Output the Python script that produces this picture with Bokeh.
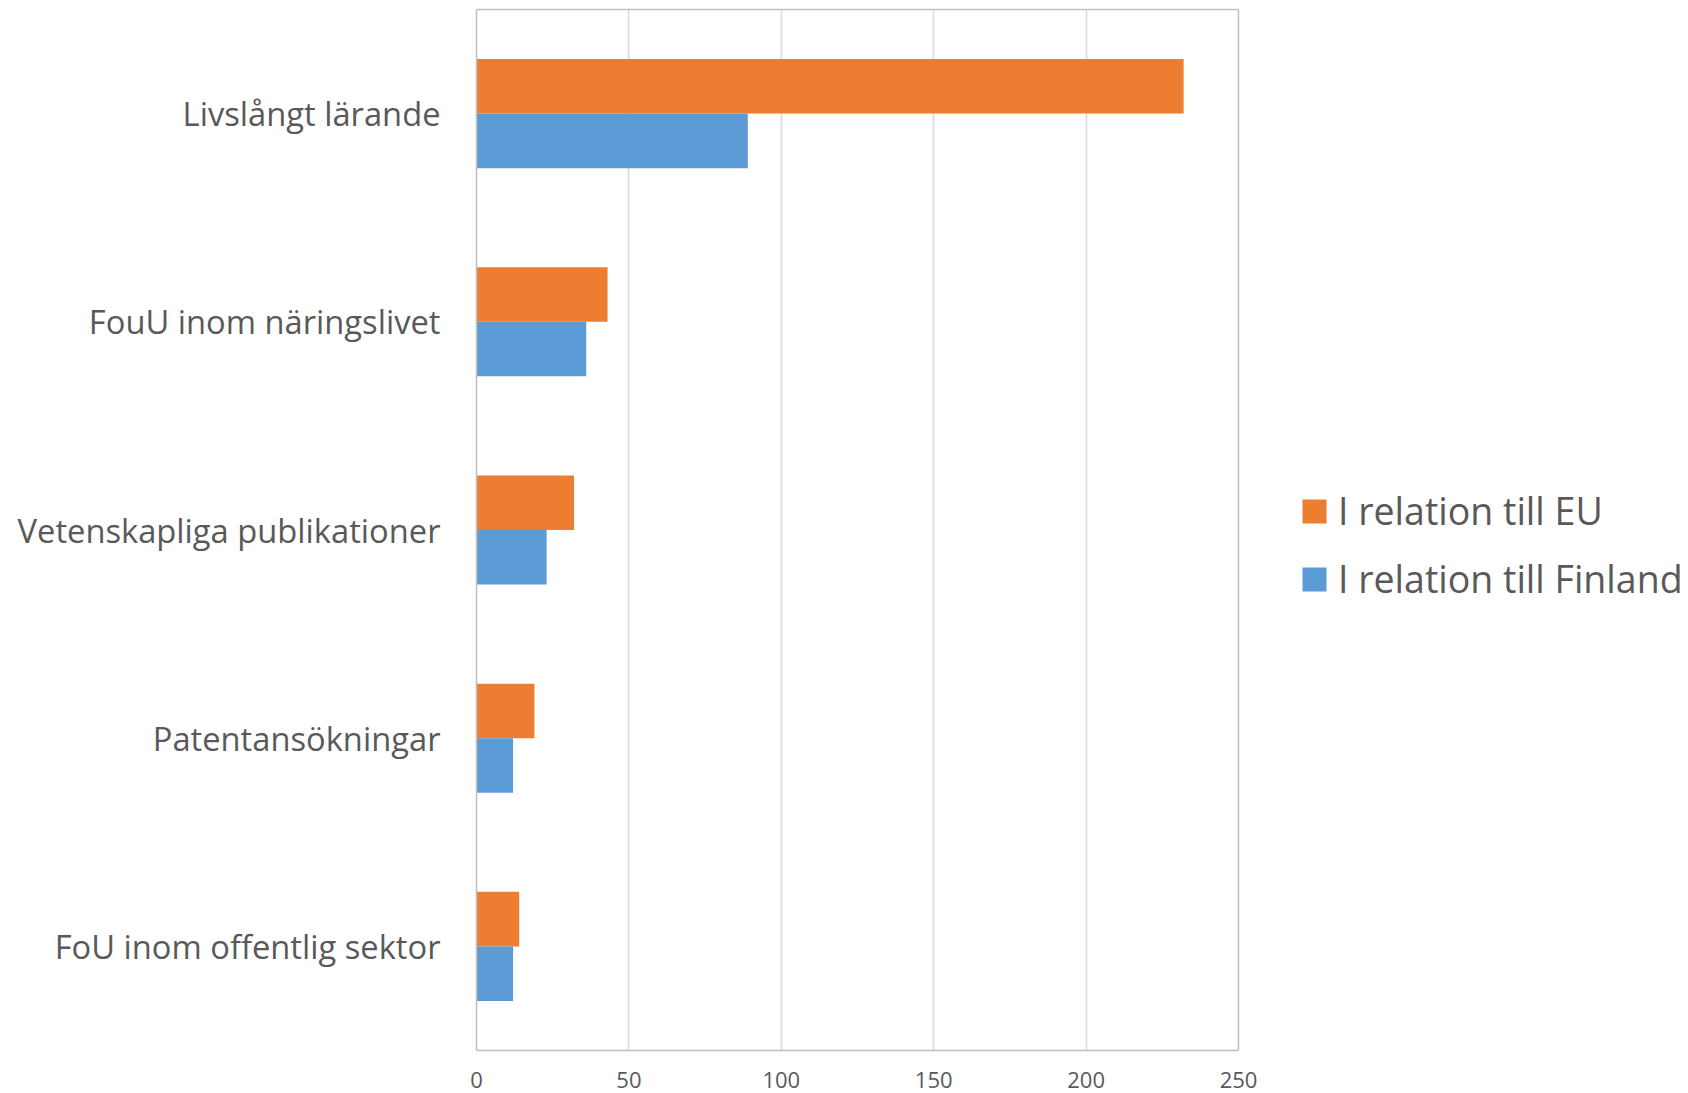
from bokeh.plotting import figure
from bokeh.models import (FactorRange, Range1d, Legend, LegendItem, ColumnDataSource, FixedTicker,
                          LinearAxis, Grid)
from bokeh.transform import dodge
from bokeh.embed import file_html
from bokeh.resources import INLINE

categories = ["Livslångt lärande", "FouU inom näringslivet", "Vetenskapliga publikationer",
              "Patentansökningar", "FoU inom offentlig sektor"]
eu_values = [232, 43, 32, 19, 14]
finland_values = [89, 36, 23, 12, 12]
series_names = ["I relation till EU", "I relation till Finland"]
x_ticks = [0, 50, 100, 150, 200, 250]

src = ColumnDataSource(dict(cat=categories, eu=eu_values, fi=finland_values))

W, H = 1688, 1093
left_border = 476
axis_px = 762            # pixel length of the 0..250 value axis
x_max = x_ticks[-1]
view_max = x_max * (W - left_border) / axis_px   # frame extends right to host the legend

p = figure(width=W, height=H,
           y_range=FactorRange(*reversed(categories), range_padding=0),
           x_range=Range1d(0, view_max),
           output_backend="svg", toolbar_location=None,
           min_border_left=left_border, min_border_right=0, min_border_top=9, min_border_bottom=43)
p.outline_line_color = None
p.xaxis.visible = False

bar_h = 0.262
r_eu = p.hbar(y=dodge('cat', bar_h / 2, range=p.y_range), right='eu', left=0, height=bar_h,
              source=src, fill_color="#ED7D31", line_color=None)
r_fi = p.hbar(y=dodge('cat', -bar_h / 2, range=p.y_range), right='fi', left=0, height=bar_h,
              source=src, fill_color="#5B9BD5", line_color=None)

p.xgrid.ticker = FixedTicker(ticks=x_ticks[:-1])
p.xgrid.grid_line_color = "#d9d9d9"
p.xgrid.grid_line_width = 1.5
p.ygrid.grid_line_color = None
p.add_layout(Grid(dimension=0, ticker=FixedTicker(ticks=[x_max]),
                  grid_line_color="#bfbfbf", grid_line_width=1.5))

xb = LinearAxis(ticker=FixedTicker(ticks=x_ticks), bounds=(0, x_max))
p.add_layout(xb, "below")
xt = LinearAxis(ticker=FixedTicker(ticks=[]), bounds=(0, x_max), major_label_standoff=0)
p.add_layout(xt, "above")

for ax in (xb, xt, p.yaxis[0]):
    ax.axis_line_color = "#bfbfbf"
    ax.axis_line_width = 1.5
    ax.major_tick_line_color = None
    ax.minor_tick_line_color = None
    ax.major_tick_out = 0
    ax.major_tick_in = 0
    ax.major_label_text_color = "#595959"
    ax.major_label_text_font = "Open Sans"

xb.major_label_text_font_size = "22px"
xb.major_label_standoff = 21
p.yaxis.major_label_text_font_size = "32.7px"
p.yaxis.major_label_standoff = 36

legend = Legend(items=[LegendItem(label=series_names[0], renderers=[r_eu]),
                       LegendItem(label=series_names[1], renderers=[r_fi])],
                location=(823, 446), orientation="vertical",
                glyph_width=30, glyph_height=30, label_standoff=9,
                label_text_font="Open Sans", label_text_font_size="37.5px",
                label_text_color="#595959", spacing=17, padding=0, margin=0,
                border_line_color=None, background_fill_alpha=0)
p.add_layout(legend, "center")

open("out.html", "w").write(file_html(p, INLINE))
